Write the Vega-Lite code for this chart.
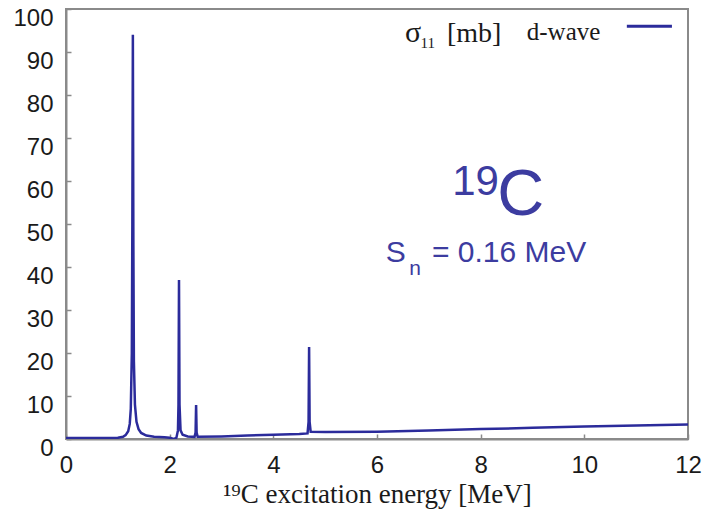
{
  "$schema": "https://vega.github.io/schema/vega-lite/v6.json",
  "width": 622,
  "height": 430,
  "autosize": "none",
  "padding": {"left": 66, "top": 9, "right": 26, "bottom": 70},
  "background": "white",
  "config": {
    "view": {"stroke": "#8a8a8a", "strokeWidth": 2},
    "axis": {
      "grid": false,
      "domainColor": "#8a8a8a",
      "domainWidth": 2,
      "tickColor": "#8a8a8a",
      "tickWidth": 1.5,
      "tickSize": -5,
      "labelFlush": false,
      "labelFont": "Liberation Sans",
      "labelFontSize": 24,
      "labelColor": "#1a1a1a",
      "titleFont": "Liberation Serif",
      "titleFontWeight": "normal",
      "titleColor": "#1a1a1a"
    }
  },
  "datasets": {
    "curve": [
      {"E": 0, "sigma": 0.25}, {"E": 0.5, "sigma": 0.25}, {"E": 1.0, "sigma": 0.3},
      {"E": 1.1, "sigma": 0.5}, {"E": 1.15, "sigma": 0.9}, {"E": 1.2, "sigma": 1.8},
      {"E": 1.23, "sigma": 3.5}, {"E": 1.25, "sigma": 7}, {"E": 1.27, "sigma": 20},
      {"E": 1.28, "sigma": 50}, {"E": 1.29, "sigma": 94}, {"E": 1.30, "sigma": 45},
      {"E": 1.31, "sigma": 18}, {"E": 1.33, "sigma": 8}, {"E": 1.36, "sigma": 4},
      {"E": 1.4, "sigma": 2.3}, {"E": 1.45, "sigma": 1.4}, {"E": 1.55, "sigma": 0.8},
      {"E": 1.7, "sigma": 0.5}, {"E": 1.9, "sigma": 0.4}, {"E": 2.0, "sigma": 0.3},
      {"E": 2.08, "sigma": 0.0}, {"E": 2.13, "sigma": 0.3}, {"E": 2.16, "sigma": 2},
      {"E": 2.17, "sigma": 8}, {"E": 2.18, "sigma": 37}, {"E": 2.19, "sigma": 8},
      {"E": 2.21, "sigma": 2}, {"E": 2.25, "sigma": 1}, {"E": 2.35, "sigma": 0.6},
      {"E": 2.48, "sigma": 0.5}, {"E": 2.50, "sigma": 1.5}, {"E": 2.51, "sigma": 7.9},
      {"E": 2.52, "sigma": 1.5}, {"E": 2.54, "sigma": 0.5}, {"E": 3.0, "sigma": 0.6},
      {"E": 3.5, "sigma": 0.8}, {"E": 4.0, "sigma": 1.0}, {"E": 4.5, "sigma": 1.15},
      {"E": 4.66, "sigma": 1.3}, {"E": 4.68, "sigma": 4}, {"E": 4.69, "sigma": 21.4},
      {"E": 4.70, "sigma": 4}, {"E": 4.72, "sigma": 1.7}, {"E": 5.0, "sigma": 1.6},
      {"E": 6.0, "sigma": 1.7}, {"E": 7.0, "sigma": 2.0}, {"E": 8.0, "sigma": 2.3},
      {"E": 9.0, "sigma": 2.6}, {"E": 10.0, "sigma": 2.9}, {"E": 11.0, "sigma": 3.15},
      {"E": 12.0, "sigma": 3.4}
    ]
  },
  "data": {"name": "curve"},
  "layer": [
    {
      "mark": {"type": "line", "color": "#2b2b9b", "strokeWidth": 2.5, "clip": true},
      "encoding": {
        "x": {
          "field": "E", "type": "quantitative",
          "scale": {"domain": [0, 12], "nice": false, "zero": false},
          "axis": {"values": [0, 2, 4, 6, 8, 10, 12], "labelPadding": 19,
                   "title": "¹⁹C excitation energy [MeV]", "titleFontSize": 27,
                   "titleY": 63, "titleBaseline": "alphabetic"}
        },
        "y": {
          "field": "sigma", "type": "quantitative",
          "scale": {"domain": [0, 100], "nice": false},
          "axis": {"values": [0, 10, 20, 30, 40, 50, 60, 70, 80, 90, 100], "labelPadding": 18, "labelOffset": 9, "title": null}
        }
      }
    },
    {
      "data": {"values": [{"t": "σ"}]},
      "mark": {"type": "text", "font": "Liberation Serif", "fontSize": 30, "align": "left", "baseline": "alphabetic", "color": "#1a1a1a"},
      "encoding": {"x": {"datum": 6.54}, "y": {"datum": 92.3}, "text": {"field": "t"}}
    },
    {
      "data": {"values": [{"t": "11"}]},
      "mark": {"type": "text", "font": "Liberation Serif", "fontSize": 15, "align": "left", "baseline": "alphabetic", "color": "#1a1a1a"},
      "encoding": {"x": {"datum": 6.84}, "y": {"datum": 90.9}, "text": {"field": "t"}}
    },
    {
      "data": {"values": [{"t": "[mb]"}]},
      "mark": {"type": "text", "font": "Liberation Serif", "fontSize": 28, "align": "left", "baseline": "alphabetic", "color": "#1a1a1a"},
      "encoding": {"x": {"datum": 7.35}, "y": {"datum": 92.3}, "text": {"field": "t"}}
    },
    {
      "data": {"values": [{"t": "d-wave"}]},
      "mark": {"type": "text", "font": "Liberation Serif", "fontSize": 25, "align": "left", "baseline": "alphabetic", "color": "#1a1a1a"},
      "encoding": {"x": {"datum": 8.89}, "y": {"datum": 92.8}, "text": {"field": "t"}}
    },
    {
      "data": {"values": [{"t": "legend"}]},
      "mark": {"type": "rule", "color": "#2b2b9b", "strokeWidth": 3},
      "encoding": {"x": {"datum": 10.82}, "x2": {"datum": 11.69}, "y": {"datum": 96.0}}
    },
    {
      "data": {"values": [{"t": "19"}]},
      "mark": {"type": "text", "font": "Liberation Sans", "fontSize": 42, "align": "left", "baseline": "alphabetic", "color": "#3c3ca0"},
      "encoding": {"x": {"datum": 7.45}, "y": {"datum": 56.7}, "text": {"field": "t"}}
    },
    {
      "data": {"values": [{"t": "C"}]},
      "mark": {"type": "text", "font": "Liberation Sans", "fontSize": 65, "align": "left", "baseline": "alphabetic", "color": "#3c3ca0"},
      "encoding": {"x": {"datum": 8.32}, "y": {"datum": 52.1}, "text": {"field": "t"}}
    },
    {
      "data": {"values": [{"t": "S"}]},
      "mark": {"type": "text", "font": "Liberation Sans", "fontSize": 30, "align": "left", "baseline": "alphabetic", "color": "#3c3ca0"},
      "encoding": {"x": {"datum": 6.17}, "y": {"datum": 41.2}, "text": {"field": "t"}}
    },
    {
      "data": {"values": [{"t": "n"}]},
      "mark": {"type": "text", "font": "Liberation Sans", "fontSize": 21, "align": "left", "baseline": "alphabetic", "color": "#3c3ca0"},
      "encoding": {"x": {"datum": 6.62}, "y": {"datum": 38.1}, "text": {"field": "t"}}
    },
    {
      "data": {"values": [{"t": "= 0.16 MeV"}]},
      "mark": {"type": "text", "font": "Liberation Sans", "fontSize": 30, "align": "left", "baseline": "alphabetic", "color": "#3c3ca0"},
      "encoding": {"x": {"datum": 7.06}, "y": {"datum": 41.2}, "text": {"field": "t"}}
    }
  ]
}
